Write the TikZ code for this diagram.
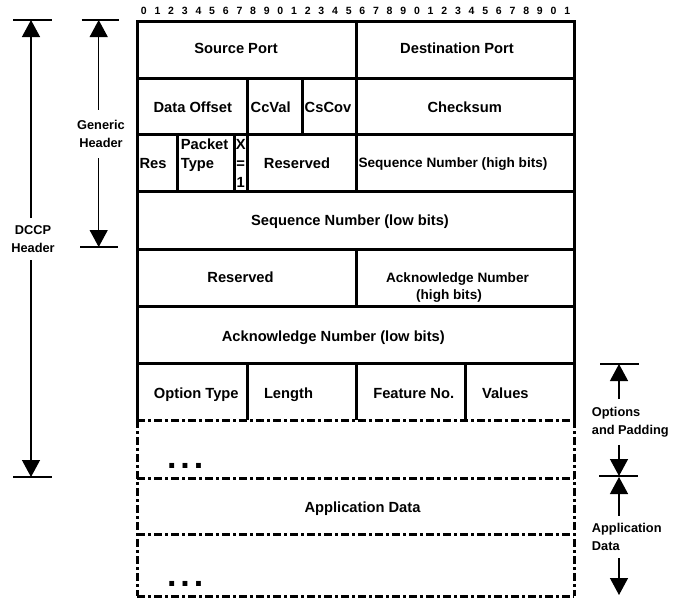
\documentclass[tikz,border=0pt]{standalone}
\usepackage{fontspec}
\setmainfont{Liberation Sans}
\usetikzlibrary{arrows.meta}

\begin{document}
\begin{tikzpicture}[x=1pt,y=-1pt,
  cell/.style={font=\fontsize{14.7}{19}\selectfont\bfseries, inner sep=0pt, anchor=base},
  cellml/.style={font=\fontsize{14.7}{19}\selectfont\bfseries, inner sep=0pt},
  smallcell/.style={font=\fontsize{13.6}{17.7}\selectfont\bfseries, inner sep=0pt, anchor=base},
  smallcellml/.style={font=\fontsize{13.6}{17.7}\selectfont\bfseries, inner sep=0pt, align=center},
  side/.style={font=\fontsize{12.8}{18.5}\selectfont\bfseries, align=center, inner xsep=0pt},
  sideleft/.style={font=\fontsize{12.8}{18.5}\selectfont\bfseries, align=left, inner xsep=0pt, anchor=west},
  bitnum/.style={font=\fontsize{10.5}{12}\selectfont\bfseries, inner sep=0pt},
  frame/.style={line width=3pt},
  dashframe/.style={line width=3pt, dash pattern=on 8pt off 3pt on 3pt off 3pt},
  span/.style={line width=1.3pt, -{Triangle[width=18pt,length=17pt]}},
  bar/.style={line width=1.5pt},
  dotrow/.style={font=\fontsize{34}{34}\selectfont\bfseries, inner sep=0pt, anchor=base west}
]
\fill[white] (0,0) rectangle (680,598);
\useasboundingbox (0,0) rectangle (680,598);

% bit ruler
\foreach \b in {0,...,31}{
  \pgfmathtruncatemacro\d{mod(\b,10)}
  \node[bitnum] (bit\b) at ({137+(\b+0.5)*13.656},11) {\d};
}

% solid part of the header grid
\draw[frame] (137,420) -- (137,21) -- (574,21) -- (574,420);
\foreach \y in {78,134,191,249,306,363}{
  \draw[frame] (137,\y) -- (574,\y);
}
\draw[frame] (356,21) -- (356,78);
\draw[frame] (247,78) -- (247,134);
\draw[frame] (302.5,78) -- (302.5,134);
\draw[frame] (356,78) -- (356,134);
\draw[frame] (177,134) -- (177,191);
\draw[frame] (234,134) -- (234,191);
\draw[frame] (247,134) -- (247,191);
\draw[frame] (356,134) -- (356,191);
\draw[frame] (356,249) -- (356,306);
\draw[frame] (247,363) -- (247,420);
\draw[frame] (356,363) -- (356,420);
\draw[frame] (465,363) -- (465,420);

% variable-length part
\foreach \y in {420,478,534,596}{
  \draw[dashframe] (137,\y) -- (574,\y);
}
\draw[dashframe] (137,420) -- (137,596);
\draw[dashframe] (574,420) -- (574,596);

% field labels
\node[cell] (srcport) at (236,53.7) {Source Port};
\node[cell] (dstport) at (457,53.7) {Destination Port};
\node[cell] (doff) at (192.8,112) {Data Offset};
\node[cell] (ccval) at (270.7,112) {CcVal};
\node[cell] (cscov) at (328,112) {CsCov};
\node[cell] (csum) at (464.7,112) {Checksum};
\node[cell] (res) at (153,168.3) {Res};
\node[cellml, align=left, anchor=west] (ptype) at (180.7,155) {Packet\\Type};
\node[cellml, align=center] (xbit) at (240.7,163.1) {X\\=\\1};
\node[cell] (resA) at (297,168.3) {Reserved};
\node[smallcell] (seqhi) at (453,167.6) {Sequence Number (high bits)};
\node[cell] (seqlo) at (350,225.3) {Sequence Number (low bits)};
\node[cell] (resB) at (240.5,282.3) {Reserved};
\node[smallcellml] (ackhi) at (457.5,287.6) {Acknowledge Number\\(high bits)\hspace*{17pt}};
\node[cell] (acklo) at (333.3,341) {Acknowledge Number (low bits)};
\node[cell] (otype) at (196.3,398) {Option Type};
\node[cell] (olen) at (288.5,398) {Length};
\node[cell] (feat) at (413.7,398) {Feature No.};
\node[cell] (vals) at (505.3,398) {Values};
\node[dotrow] (moreopt) at (166.9,468.5) {.\hspace{3.9pt}.\hspace{3.9pt}.};
\node[cell] (appdata) at (362.5,512) {Application Data};
\node[dotrow] (moredata) at (166.9,586) {.\hspace{3.9pt}.\hspace{3.9pt}.};

% left extent markers
\coordinate (dccpTop) at (31,20);
\coordinate (dccpBot) at (31,477);
\coordinate (genTop) at (98.7,20);
\coordinate (genBot) at (98.7,247);
\node[side, inner ysep=7pt] (dccp) at (33,239.2) {DCCP\\Header};
\node[side, inner ysep=10pt] (generic) at (101,134) {Generic\\Header};
\draw[bar] ([xshift=-18pt]dccpTop) -- ([xshift=21pt]dccpTop);
\draw[bar] ([xshift=-18pt]dccpBot) -- ([xshift=21pt]dccpBot);
\draw[bar] ([xshift=-17pt]genTop) -- ([xshift=20.3pt]genTop);
\draw[bar] ([xshift=-18.7pt]genBot) -- ([xshift=19.3pt]genBot);
\draw[span] (dccp.north -| dccpTop) -- (dccpTop);
\draw[span] (dccp.south -| dccpBot) -- (dccpBot);
\draw[span] (generic.north -| genTop) -- (genTop);
\draw[span] (generic.south -| genBot) -- (genBot);

% right extent markers
\coordinate (optTop) at (619,364);
\coordinate (optBot) at (619,476);
\coordinate (appTop) at (619,477);
\coordinate (appBot) at (619,595);
\node[sideleft, inner ysep=7.5pt] (options) at (591.7,422) {Options\\and Padding};
\node[sideleft, inner ysep=7pt] (appl) at (591.7,537) {Application\\Data};
\draw[bar] ([xshift=-19pt]optTop) -- ([xshift=20pt]optTop);
\draw[bar] ([xshift=-20pt]optBot) -- ([xshift=19pt]optBot);
\draw[span] (options.north -| optTop) -- (optTop);
\draw[span] (options.south -| optBot) -- (optBot);
\draw[span] (appl.north -| appTop) -- (appTop);
\draw[span] (appl.south -| appBot) -- (appBot);
\end{tikzpicture}
\end{document}
